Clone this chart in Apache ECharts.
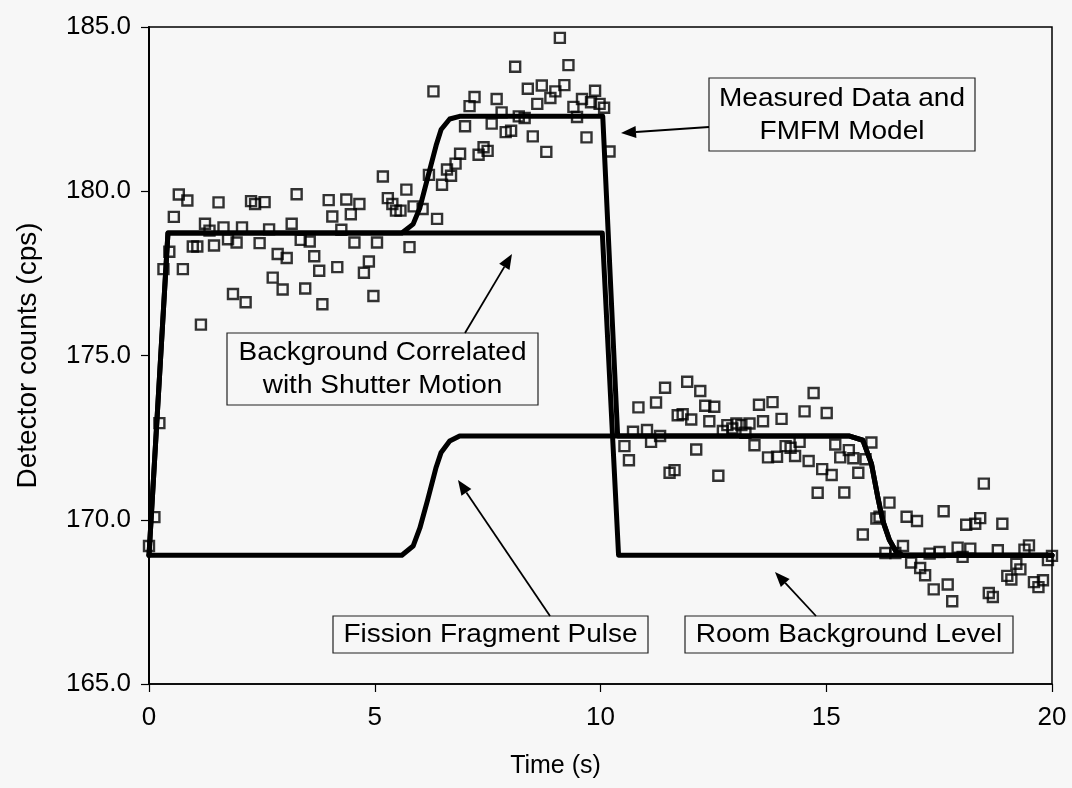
<!DOCTYPE html>
<html>
<head>
<meta charset="utf-8">
<script src="https://cdn.jsdelivr.net/npm/echarts@6/dist/echarts.min.js"></script>
<style>
html,body{margin:0;padding:0;background:#f7f7f7;}
#chart{width:1072px;height:788px;}
</style>
</head>
<body>
<div id="chart"></div>
<script>
// ---- data ----
const xTicks = [0, 5, 10, 15, 20];
const yTicks = [165, 170, 175, 180, 185];

// measured detector counts [time s, cps]
const measuredData = [
[0,169.2],[0.12,170.08],[0.23,172.94],[0.32,177.63],[0.45,178.16],[0.55,179.22],[0.66,179.90],[0.75,177.63],
[0.85,179.72],[0.97,178.32],[1.07,178.32],[1.15,175.94],[1.24,179.01],[1.34,178.80],[1.44,178.35],[1.54,179.66],
[1.65,178.90],[1.75,178.54],[1.86,176.87],[1.94,178.44],[2.06,178.90],[2.14,176.62],[2.26,179.70],[2.35,179.61],
[2.45,178.42],[2.56,179.67],[2.66,178.84],[2.74,177.37],[2.85,178.09],[2.96,177.01],[3.05,177.97],[3.16,179.01],
[3.27,179.91],[3.36,178.52],[3.46,177.04],[3.56,178.47],[3.66,178.02],[3.77,177.58],[3.84,176.56],[3.98,179.73],
[4.06,179.23],[4.17,177.69],[4.26,178.83],[4.37,179.75],[4.47,179.30],[4.55,178.44],[4.66,179.61],[4.76,177.52],
[4.87,177.86],[4.97,176.81],[5.05,178.44],[5.18,180.45],[5.29,179.79],[5.39,179.61],[5.47,179.41],[5.57,179.41],
[5.70,180.05],[5.77,178.30],[5.86,179.54],[6.06,179.46],[6.20,180.50],[6.30,183.04],[6.38,179.16],[6.49,180.20],
[6.60,180.66],[6.69,180.47],[6.79,180.84],[6.89,181.14],[7.00,181.98],[7.10,182.59],[7.21,182.87],[7.30,181.11],
[7.41,181.34],[7.50,181.23],[7.59,182.06],[7.70,182.81],[7.81,182.40],[7.90,181.80],[8.02,181.84],[8.11,183.79],
[8.19,182.28],[8.32,182.23],[8.39,183.12],[8.50,181.67],[8.60,182.66],[8.70,183.22],[8.80,181.20],[8.89,182.84],
[9.00,183.04],[9.10,184.67],[9.20,183.23],[9.29,183.84],[9.40,182.57],[9.48,182.26],[9.59,182.81],[9.69,181.64],
[9.79,182.71],[9.88,183.06],[9.98,182.66],[10.08,182.54],[10.20,181.21],
[10.53,172.24],[10.63,171.81],[10.72,172.68],[10.84,173.42],[11.03,172.73],[11.12,172.37],[11.23,173.57],[11.32,172.55],
[11.43,174.02],[11.53,171.43],[11.64,171.51],[11.71,173.18],[11.82,173.21],[11.92,174.20],[12.01,173.05],[12.12,172.14],
[12.21,173.92],[12.32,173.47],[12.41,173.00],[12.52,173.44],[12.61,171.34],[12.71,172.70],[12.81,172.88],[12.92,172.78],
[13.01,172.93],[13.12,172.88],[13.21,172.65],[13.30,172.93],[13.41,172.27],[13.51,173.50],[13.60,173.00],[13.71,171.90],
[13.81,173.58],[13.91,171.92],[14.01,173.07],[14.10,172.24],[14.21,172.19],[14.31,171.94],[14.41,172.37],[14.52,173.30],
[14.61,171.79],[14.72,173.86],[14.81,170.82],[14.91,171.54],[15.01,173.25],[15.12,171.36],[15.20,172.29],[15.31,171.90],
[15.40,170.83],[15.50,172.12],[15.60,171.87],[15.71,171.43],[15.81,169.55],[15.87,171.84],[16.00,172.35],[16.11,170.04],
[16.18,170.09],[16.31,168.99],[16.40,170.52],[16.53,168.99],[16.70,169.20],[16.78,170.09],[16.88,168.70],[17.01,169.96],
[17.08,168.53],[17.19,168.31],[17.29,168.97],[17.38,167.88],[17.51,169.02],[17.60,170.26],[17.69,168.03],[17.79,167.52],
[17.91,169.15],[18.02,168.87],[18.10,169.85],[18.19,169.12],[18.30,169.88],[18.41,170.05],[18.49,171.10],[18.60,167.77],
[18.69,167.65],[18.80,169.07],[18.90,169.88],[19.01,168.29],[19.10,168.18],[19.21,168.66],[19.30,168.49],[19.39,169.09],
[19.49,169.22],[19.60,168.10],[19.70,167.95],[19.80,168.16],[19.91,168.77],[20.0,168.90]
];

// FMFM model (sum curve)
const modelLine = [
[0,168.92],[0.42,178.73],[5.6,178.73],[5.85,179.0],[6.0,179.5],[6.17,180.4],[6.36,181.4],[6.47,181.88],
[6.66,182.2],[6.88,182.28],[10.05,182.28],[10.38,172.55],[15.5,172.55],[15.81,172.42],[16.0,171.71],
[16.14,170.70],[16.25,169.98],[16.40,169.38],[16.55,169.02],[16.69,168.92],[20,168.92]
];
// background correlated with shutter motion
const shutterLine = [[0,168.92],[0.42,178.73],[10.04,178.73],[10.4,168.92],[20,168.92]];
// fission fragment pulse
const pulseLine = [
[0,168.92],[5.6,168.92],[5.85,169.2],[6.0,169.75],[6.17,170.6],[6.36,171.6],[6.47,172.05],[6.66,172.4],
[6.88,172.55],[15.5,172.55],[15.81,172.42],[16.0,171.71],[16.14,170.70],[16.25,169.98],[16.40,169.38],
[16.55,169.02],[16.69,168.92],[20,168.92]
];

const annotations = [
  {text: 'Measured Data and\nFMFM Model', box: [709, 78, 266, 73], from: [709, 127], to: [621, 133]},
  {text: 'Background Correlated\nwith Shutter Motion', box: [227, 333, 311, 72], from: [465, 333], to: [512, 254]},
  {text: 'Fission Fragment Pulse', box: [333, 616, 315, 37], from: [550, 616], to: [458, 480]},
  {text: 'Room Background Level', box: [685, 616, 328, 37], from: [816, 616], to: [775, 572]}
];

// ---- chart ----
const FONT = '"Liberation Sans", Arial, Helvetica, sans-serif';
const chart = echarts.init(document.getElementById('chart'), null, {renderer: 'canvas'});

function arrow(a) {
  const [x1, y1] = a.from, [x2, y2] = a.to;
  const dx = x2 - x1, dy = y2 - y1, L = Math.hypot(dx, dy);
  const ux = dx / L, uy = dy / L, hl = 15, hw = 6;
  const bx = x2 - ux * hl, by = y2 - uy * hl;
  return [
    {type: 'line', z: 100, shape: {x1, y1, x2: bx, y2: by}, style: {stroke: '#000', lineWidth: 1.8}},
    {type: 'polygon', z: 100, shape: {points: [[x2, y2], [bx - uy * hw, by + ux * hw], [bx + uy * hw, by - ux * hw]]},
     style: {fill: '#000'}}
  ];
}

const graphics = [];
annotations.forEach(a => {
  const [bx, by, bw, bh] = a.box;
  graphics.push({type: 'rect', z: 100, shape: {x: bx, y: by, width: bw, height: bh},
    style: {fill: '#f7f7f7', stroke: '#222', lineWidth: 1.2}});
  graphics.push({type: 'text', z: 101, x: bx + bw / 2, y: by + bh / 2 + 1, scaleX: 1.12,
    style: {text: a.text, fontSize: 25, fontFamily: FONT, fill: '#000',
      textAlign: 'center', textVerticalAlign: 'middle', align: 'center', verticalAlign: 'middle', lineHeight: 33}});
  arrow(a).forEach(g => graphics.push(g));
});

const lineStyle = {color: '#000', width: 5, cap: 'round', join: 'round'};

chart.setOption({
  backgroundColor: '#f7f7f7',
  animation: false,
  textStyle: {fontFamily: FONT},
  grid: {left: 149, right: 20, top: 27, bottom: 104, show: true, borderColor: '#000', borderWidth: 1.5,
         backgroundColor: 'transparent'},
  xAxis: {
    type: 'value', min: xTicks[0], max: xTicks[xTicks.length - 1], interval: 5,
    name: 'Time (s)', nameLocation: 'middle', nameGap: 70,
    nameTextStyle: {fontSize: 25, color: '#000', fontFamily: FONT, padding: [0, 90, 0, 0]},
    axisLine: {show: true, onZero: false, lineStyle: {color: '#000', width: 1.5}},
    axisTick: {show: true, inside: false, length: 8, lineStyle: {color: '#000', width: 1.2}},
    axisLabel: {fontSize: 26, color: '#000', margin: 21, fontFamily: FONT},
    splitLine: {show: false}
  },
  yAxis: {
    type: 'value', min: yTicks[0], max: yTicks[yTicks.length - 1], interval: 5,
    name: 'Detector counts (cps)', nameLocation: 'middle', nameGap: 107,
    nameTextStyle: {fontSize: 28, color: '#000', fontFamily: FONT},
    axisLine: {show: true, onZero: false, lineStyle: {color: '#000', width: 2}},
    axisTick: {show: true, inside: false, length: 8, lineStyle: {color: '#000', width: 1.2}},
    axisLabel: {fontSize: 26, color: '#000', margin: 18, fontFamily: FONT, formatter: v => v.toFixed(1)},
    splitLine: {show: false}
  },
  series: [
    {type: 'scatter', name: 'Measured', data: measuredData, symbol: 'rect', symbolSize: 10, z: 2,
     itemStyle: {color: 'rgba(0,0,0,0)', borderColor: '#000', borderWidth: 2.4}},
    {type: 'line', name: 'Shutter', data: shutterLine, showSymbol: false, z: 3, lineStyle},
    {type: 'line', name: 'Pulse', data: pulseLine, showSymbol: false, z: 3, lineStyle},
    {type: 'line', name: 'Model', data: modelLine, showSymbol: false, z: 3, lineStyle}
  ],
  graphic: graphics
});
</script>
</body>
</html>
